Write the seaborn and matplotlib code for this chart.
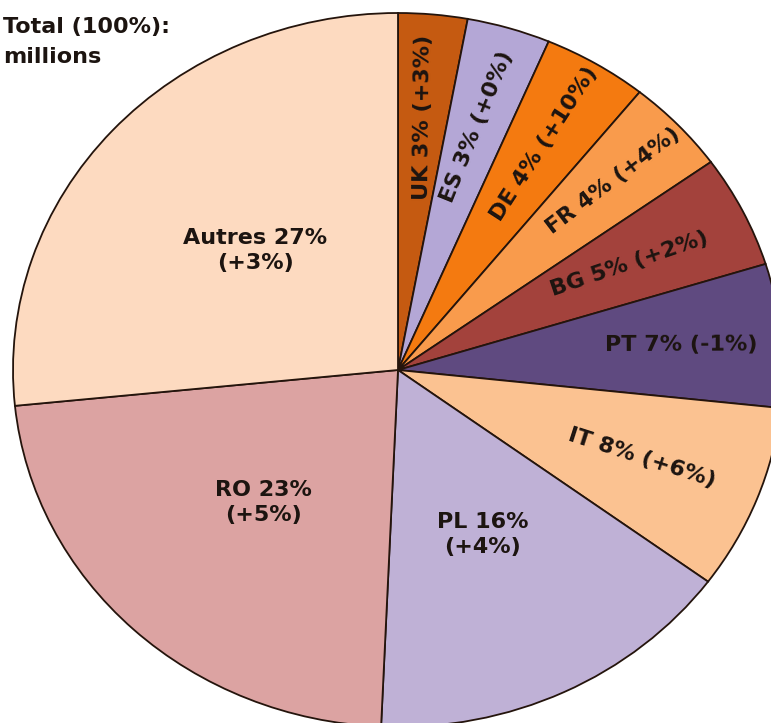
import numpy as np
import matplotlib
matplotlib.use("Agg")
import matplotlib.pyplot as plt
import seaborn as sns

# Share of each country and the label texts
countries = ["UK", "ES", "DE", "FR", "BG", "PT", "IT", "PL", "RO", "Autres"]
shares = [2.9, 3.5, 4.4, 4.3, 5.1, 6.5, 8.4, 15.6, 22.7, 26.6]
share_labels = ["3%", "3%", "4%", "4%", "5%", "7%", "8%", "16%", "23%", "27%"]
changes = ["+3%", "+0%", "+10%", "+4%", "+2%", "-1%", "+6%", "+4%", "+5%", "+3%"]
colors = ["#C55A11", "#B4A7D6", "#F47A10", "#F99B4C", "#A3423C",
          "#5F4A80", "#FBC291", "#BFB1D6", "#DCA3A2", "#FDDAC0"]

# label placement: distance from centre, and a small tweak of the angle
label_radius = [0.71, 0.71, 0.74, 0.77, 0.67, 0.74, 0.68, 0.51, 0.51, 0.50]
rot_tweak = [5, -4, 0, -4, -6, -5, 2, 0, 0, 0]
two_lines = [False] * 7 + [True] * 3

sns.set_theme(style="white")
plt.rcParams["font.family"] = ["DejaVu Sans"]

fig = plt.figure(figsize=(7.71, 7.23), dpi=100)
ax = fig.add_axes([0, 0, 1, 1])

# pixel geometry of the (slightly stretched) pie in the reference
W, H = 771, 723
cx, cy = 398, 370          # centre, pixels from top-left
rx, ry = 385, 357          # horizontal / vertical radius in pixels

wedges, _ = ax.pie(
    shares,
    colors=colors,
    startangle=90,
    counterclock=False,
    wedgeprops={"edgecolor": "#24140c", "linewidth": 1.3},
)
ax.set_aspect("auto")
ax.set_xlim(-cx / rx, (W - cx) / rx)
ax.set_ylim(-(H - cy) / ry, cy / ry)
ax.axis("off")

for w, name, pct, chg, r, dt, tl in zip(wedges, countries, share_labels, changes,
                                         label_radius, rot_tweak, two_lines):
    mid = np.deg2rad((w.theta1 + w.theta2) / 2)
    x, y = r * np.cos(mid), r * np.sin(mid)
    if tl:
        txt = f"{name} {pct}\n({chg})"
        rot = 0
    else:
        txt = f"{name} {pct} ({chg})"
        # angle of the radius as it appears on screen
        rot = np.degrees(np.arctan2(np.sin(mid) * ry, np.cos(mid) * rx)) + dt
    ax.text(x, y, txt, ha="center", va="center", rotation=rot,
            rotation_mode="anchor", fontsize=16, fontweight="bold",
            color="#1c1410", linespacing=1.3)

# title in the top-left corner
fig.text(3 / W, 1 - 27 / H, "Total (100%):", ha="left", va="center",
         fontsize=16, fontweight="bold", color="#1c1410")
fig.text(3 / W, 1 - 57 / H, "millions", ha="left", va="center",
         fontsize=16, fontweight="bold", color="#1c1410")

fig.savefig("out.png", dpi=100, facecolor="white")
